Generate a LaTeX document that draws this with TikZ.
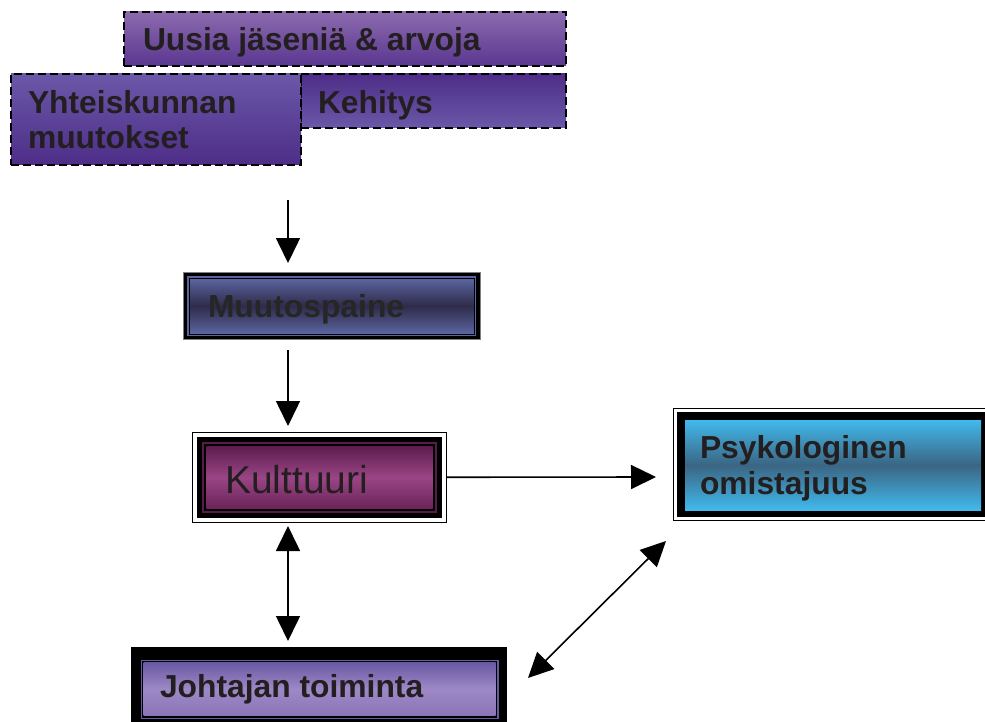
\documentclass[tikz,border=0pt]{standalone}
\usepackage{fontspec}
\setmainfont{Liberation Sans}
\usetikzlibrary{arrows.meta}
\definecolor{txt}{HTML}{231F20}
\definecolor{uusTop}{HTML}{8C6AAE}
\definecolor{uusBot}{HTML}{5A3790}
\definecolor{vioA}{HTML}{6A58A8}
\definecolor{vioB}{HTML}{4E2D88}
\definecolor{muuEdge}{HTML}{5B65A0}
\definecolor{muuMid}{HTML}{2F2B4A}
\definecolor{kulTop}{HTML}{5E1D4E}
\definecolor{kulMid}{HTML}{9A4585}
\definecolor{kulBot}{HTML}{6A2458}
\definecolor{kulLine}{HTML}{5A1A4A}
\definecolor{psyEdge}{HTML}{41B9EC}
\definecolor{psyMid}{HTML}{3B6583}
\definecolor{joTop}{HTML}{6A5AA3}
\definecolor{joMid}{HTML}{9E88C6}
\definecolor{joBot}{HTML}{8A75B8}
\begin{document}
\begin{tikzpicture}[x=1pt,y=-1pt,
  every node/.style={inner sep=0pt,outer sep=0pt},
  panel/.style={anchor=north west},
  dbox/.style={panel,draw=black,line width=2pt,dash pattern=on 8pt off 4pt},
  lbl/.style={anchor=base west,text=txt,font=\bfseries\fontsize{31.8}{36}\selectfont},
  arr/.style={line width=1.6pt,-{Triangle[length=25pt,width=24pt]}},
  darr/.style={line width=1.6pt,{Triangle[length=25pt,width=24pt]}-{Triangle[length=25pt,width=24pt]}}
]
\useasboundingbox (0,0) rectangle (985,722);

% top dashed boxes
\node[dbox,minimum width=442,minimum height=54,top color=uusTop,bottom color=uusBot] (uus) at (124,12) {};
\node[dbox,minimum width=265,minimum height=54,top color=vioB,bottom color=vioA] (keh) at (301,74) {};
\node[dbox,minimum width=290,minimum height=91,top color=vioA,bottom color=vioB] (yht) at (11,74) {};
\node[lbl] (uusT) at (143,51) {Uusia jäseniä \& arvoja};
\node[lbl] (yhtT1) at (28,114) {Yhteiskunnan};
\node[lbl] (yhtT2) at (28,149) {muutokset};
\node[lbl] (kehT) at (318,114) {Kehitys};

% Muutospaine
\node[panel,minimum width=297,minimum height=67,fill=black,draw=gray,line width=1pt] (muuF) at (183,272) {};
\node[panel,minimum width=289,minimum height=60,fill=muuEdge] (muuM) at (187,276) {};
\node[panel,minimum width=285,minimum height=56,top color=muuEdge,bottom color=muuEdge,middle color=muuMid,draw=black,line width=1pt] (muuG) at (189,278) {};
\node[lbl,text=black!85] (muuT) at (208,317) {Muutospaine};

% Kulttuuri
\node[panel,minimum width=253.5,minimum height=89.5,fill=white,draw=black,line width=1pt] (kulF) at (192.5,432.5) {};
\node[panel,minimum width=245,minimum height=81,fill=black] (kulB) at (197,437) {};
\node[panel,minimum width=235,minimum height=71,fill=kulLine] (kulM) at (202,442) {};
\node[panel,minimum width=231,minimum height=67,fill=black] (kulN) at (204,444) {};
\node[panel,minimum width=226,minimum height=62,top color=kulTop,bottom color=kulBot,middle color=kulMid] (kulG) at (206.5,446.5) {};
\node[anchor=base west,text=txt,font=\fontsize{39}{44}\selectfont] (kulT) at (225,493) {Kulttuuri};

% Psykologinen omistajuus
\node[panel,minimum width=320,minimum height=112,fill=white,draw=black,line width=1pt] (psyF) at (673,408) {};
\node[panel,minimum width=316,minimum height=105,fill=black] (psyB) at (677,412) {};
\node[panel,minimum width=296,minimum height=90,top color=psyEdge,bottom color=psyEdge,middle color=psyMid] (psyG) at (685,420) {};
\node[lbl] (psyT1) at (700,458) {Psykologinen};
\node[lbl] (psyT2) at (700,494) {omistajuus};

% Johtajan toiminta
\node[panel,minimum width=376,minimum height=80,fill=black] (joB) at (131,647) {};
\node[panel,minimum width=358,minimum height=59.5,fill=joTop] (joM) at (140.5,659.5) {};
\node[panel,minimum width=355,minimum height=56.5,fill=black] (joN) at (142,661) {};
\node[panel,minimum width=352,minimum height=53,top color=joTop,bottom color=joBot,middle color=joMid] (joG) at (143.5,662.5) {};
\node[lbl] (joT) at (160,697) {Johtajan toiminta};

% connector ends
\coordinate (c1s) at (288,200);
\coordinate (c1e) at (288,263);
\coordinate (c2s) at (288,350);
\coordinate (c2e) at (288,426);
\coordinate (c3e) at (656,477);
\coordinate (c4s) at (288,526);
\coordinate (c4e) at (288,641);
\coordinate (c5s) at (528,678);
\coordinate (c5e) at (666,541);

\draw[arr] (c1s) -- (c1e);
\draw[arr] (c2s) -- (c2e);
\draw[arr] (kulF.east) -- (c3e);
\draw[darr] (c4s) -- (c4e);
\draw[darr] (c5s) -- (c5e);
\end{tikzpicture}
\end{document}
